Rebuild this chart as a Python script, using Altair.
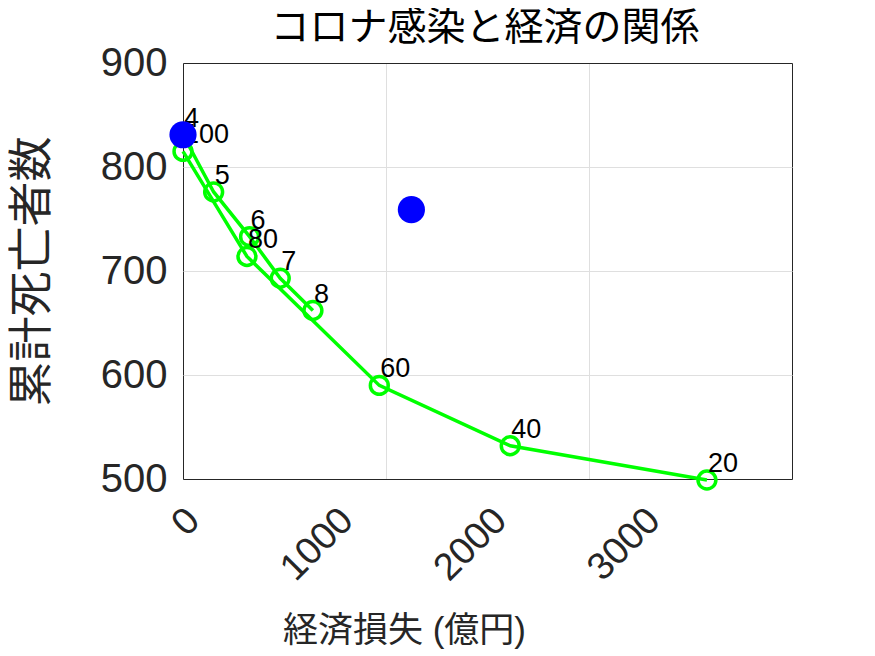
import altair as alt
import pandas as pd

# series
s1_labels = ["100", "80", "60", "40", "20"]
s1_x = [0, 315, 967, 1612, 2581]
s1_y = [815, 714, 590, 532, 499]

s2_labels = ["4", "5", "6", "7", "8"]
s2_x = [0, 151, 328, 479, 640]
s2_y = [831, 776, 733, 693, 662]

blue_x = [0, 1125]
blue_y = [831, 759]

x_ticks = [0, 1000, 2000, 3000]
y_ticks = [500, 600, 700, 800, 900]

title_text = ["コロナ感染と経済の関係"]

rows = []
for i, (l, x, y) in enumerate(zip(s1_labels, s1_x, s1_y)):
    rows.append({"kind": "s1", "idx": i, "label": l, "x": x, "y": y})
for i, (l, x, y) in enumerate(zip(s2_labels, s2_x, s2_y)):
    rows.append({"kind": "s2", "idx": i, "label": l, "x": x, "y": y})
for i, (x, y) in enumerate(zip(blue_x, blue_y)):
    rows.append({"kind": "blue", "idx": i, "label": "", "x": x, "y": y})
df = pd.DataFrame(rows)

NUM_FONT = "Liberation Sans"
CJK_FONT = "Liberation Sans, Noto Sans CJK JP"
AX = "#262626"
GRID = "#dfdfdf"

x_enc = alt.X(
    "x:Q",
    scale=alt.Scale(domain=[0, 3000], nice=False, zero=False),
    axis=alt.Axis(
        values=x_ticks,
        format="d",
        title="経済損失 (億円)",
        titleFont=CJK_FONT,
        titleFontSize=35,
        titleFontWeight="normal",
        titleColor=AX,
        titleX=221,
        titleY=151,
        titleAlign="center",
        titleBaseline="middle",
        labelFont=NUM_FONT,
        labelFontSize=38,
        labelColor=AX,
        labelAngle=315,
        labelAlign="right",
        labelBaseline="top",
        labelPadding=22,
        labelOffset=alt.ExprRef(expr="-3 - datum.value * 0.0495"),
        labelFlush=False,
        labelOverlap=False,
        ticks=False,
        tickSize=0,
        domain=False,
        grid=True,
        gridWidth=1,
        gridColor={
            "condition": {"test": "datum.value == 0 || datum.value == 3000", "value": AX},
            "value": GRID,
        },
    ),
)
y_enc = alt.Y(
    "y:Q",
    scale=alt.Scale(domain=[500, 900], nice=False, zero=False),
    axis=alt.Axis(
        values=y_ticks,
        format="d",
        title="累計死亡者数",
        titleFont=CJK_FONT,
        titleFontSize=45,
        titleFontWeight="normal",
        titleColor=AX,
        titleX=-151,
        titleY=208,
        titleAngle=270,
        titleAlign="center",
        titleBaseline="middle",
        labelFont=NUM_FONT,
        labelFontSize=40,
        labelColor=AX,
        labelPadding=16,
        labelFlush=False,
        labelOverlap=False,
        ticks=False,
        tickSize=0,
        domain=False,
        grid=True,
        gridWidth=1,
        gridColor={
            "condition": {"test": "datum.value == 500 || datum.value == 900", "value": AX},
            "value": GRID,
        },
    ),
)

base = alt.Chart(df).encode(x=x_enc, y=y_enc)
green = base.transform_filter("datum.kind != 'blue'")

lines = green.mark_line(color="#00ff00", strokeWidth=3.5).encode(
    detail="kind:N", order="idx:Q"
)
circles = green.mark_point(
    shape="circle", filled=False, color="#00ff00", strokeWidth=3.5, size=320, opacity=1
)
labels = green.mark_text(
    align="left", baseline="alphabetic", dx=1, dy=-8,
    font=NUM_FONT, fontSize=27, color="black"
).encode(text="label:N")
blue = base.transform_filter("datum.kind == 'blue'").mark_point(
    shape="circle", filled=True, color="#0000ff", size=740, opacity=1
)

# chart title drawn as a text mark centred over the plot area
title = alt.Chart(pd.DataFrame({"t": title_text})).mark_text(
    align="center", baseline="middle", font=CJK_FONT, fontSize=39, color="black"
).encode(text="t:N", x=alt.value(302), y=alt.value(-35))

chart = alt.layer(lines, circles, labels, blue, title).properties(
    width=609,
    height=416,
    autosize=alt.AutoSizeParams(type="none"),
    padding={"left": 175, "top": 55, "right": 50, "bottom": 180},
).configure_view(stroke=AX, strokeWidth=1).configure(background="white")

chart.save("out.html", embed_options={"renderer": "svg", "actions": False})
